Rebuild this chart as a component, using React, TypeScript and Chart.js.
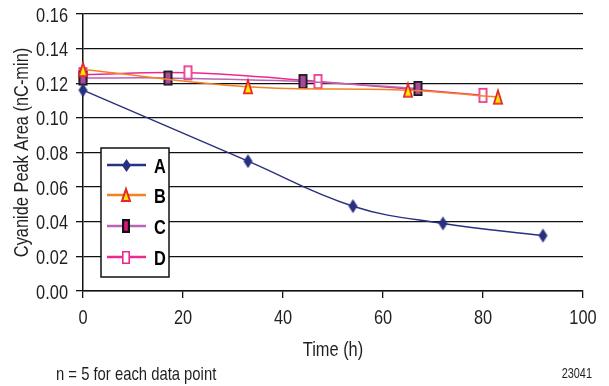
import React, { useEffect, useRef } from "react";
import { Chart, registerables } from "chart.js";

Chart.register(...registerables);

// ---------- data ----------
const seriesNames = ["A", "B", "C", "D"];
const timeA = [0, 33, 54, 72, 92];
const valuesA = [0.116, 0.075, 0.049, 0.039, 0.032];
const timeB = [0, 33, 65, 83];
const valuesB = [0.128, 0.118, 0.116, 0.112];
const timeC = [0, 17, 44, 67];
const valuesC = [0.123, 0.123, 0.121, 0.117];
const timeD = [0, 21, 47, 80];
const valuesD = [0.125, 0.126, 0.121, 0.113];
const xTicks = [0, 20, 40, 60, 80, 100];
const yTicks = [0, 0.02, 0.04, 0.06, 0.08, 0.1, 0.12, 0.14, 0.16];
const xTitle = "Time (h)";
const yTitle = "Cyanide Peak Area (nC-min)";
const footnote = "n = 5 for each data point";
const figureId = "23041";

// ---------- styling ----------
const FONT = "'Liberation Sans', Arial, sans-serif";
const TEXT = "#231f20";
const SQUEEZE = 0.78; // emulate the condensed face of the original

function makeMarker(kind: string, w: number, h: number, fill: string, stroke: string, lw: number) {
  const pad = 2;
  const c = document.createElement("canvas");
  c.width = w + pad * 2;
  c.height = h + pad * 2;
  const ctx = c.getContext("2d")!;
  ctx.translate(pad, pad);
  ctx.beginPath();
  if (kind === "diamond") {
    ctx.moveTo(w / 2, 0);
    ctx.lineTo(w, h / 2);
    ctx.lineTo(w / 2, h);
    ctx.lineTo(0, h / 2);
    ctx.closePath();
  } else if (kind === "triangle") {
    ctx.moveTo(w / 2, lw / 2);
    ctx.lineTo(w - lw / 2, h - lw / 2);
    ctx.lineTo(lw / 2, h - lw / 2);
    ctx.closePath();
  } else {
    ctx.rect(lw / 2, lw / 2, w - lw, h - lw);
  }
  ctx.fillStyle = fill;
  ctx.fill();
  if (lw > 0) {
    ctx.lineWidth = lw;
    ctx.strokeStyle = stroke;
    ctx.lineJoin = "miter";
    ctx.stroke();
  }
  return c;
}

function squeezedText(
  ctx: CanvasRenderingContext2D,
  text: string,
  x: number,
  y: number,
  font: string,
  align: CanvasTextAlign,
  rotate = 0
) {
  ctx.save();
  ctx.font = font;
  ctx.textAlign = align;
  ctx.textBaseline = "alphabetic";
  const w = ctx.measureText(text).width;
  ctx.translate(x, y);
  if (rotate) ctx.rotate(rotate);
  ctx.fillText(text, 0, 0, w * SQUEEZE);
  ctx.restore();
}

export default function App() {
  const ref = useRef<HTMLCanvasElement | null>(null);

  useEffect(() => {
    document.body.style.margin = "0";
    const canvas = ref.current!;

    const mA = makeMarker("diamond", 9, 14, "#29307f", "#29307f", 0);
    const mB = makeMarker("triangle", 10, 15, "#ffe500", "#e5262a", 1.8);
    const mC = makeMarker("rect", 9, 15, "#a8489e", "#1a1a1a", 1.8);
    const mD = makeMarker("rect", 9, 15, "#ffffff", "#ec3b8c", 1.8);
    const lA = makeMarker("diamond", 9, 13, "#29307f", "#29307f", 0);
    const lB = makeMarker("triangle", 10, 14, "#ffe500", "#e5262a", 2);
    const lC = makeMarker("rect", 8, 14, "#e0157a", "#111", 2.2);
    const lD = makeMarker("rect", 8, 13, "#ffffff", "#ec2a8e", 1.6);

    const lineColors = ["#29307f", "#f58220", "#b865b3", "#ec2a8e"];
    const markers = [mA, mB, mC, mD];
    const legendMarkers = [lA, lB, lC, lD];
    const times = [timeA, timeB, timeC, timeD];
    const vals = [valuesA, valuesB, valuesC, valuesD];

    const datasets = seriesNames.map((name, i) => ({
      label: name,
      data: times[i].map((t, j) => ({ x: t, y: vals[i][j] })),
      borderColor: lineColors[i],
      backgroundColor: lineColors[i],
      borderWidth: 1.5,
      tension: 0.4,
      pointStyle: markers[i] as any,
      pointRadius: 7,
      clip: false as any,
    }));

    const extras = {
      id: "extras",
      afterDraw(chart: any) {
        const ctx = chart.ctx as CanvasRenderingContext2D;
        const xs = chart.scales.x;
        const ys = chart.scales.y;
        const area = chart.chartArea;
        ctx.save();
        ctx.fillStyle = TEXT;
        // tick labels
        const tickFont = `21px ${FONT}`;
        xs.ticks.forEach((t: any) => {
          squeezedText(ctx, String(t.value), xs.getPixelForValue(t.value), 324, tickFont, "center");
        });
        ys.ticks.forEach((t: any) => {
          squeezedText(ctx, Number(t.value).toFixed(2), area.left - 15, ys.getPixelForValue(t.value) + 7.5, tickFont, "right");
        });
        // axis titles
        squeezedText(ctx, xTitle, (area.left + area.right) / 2, 355.5, `21px ${FONT}`, "center");
        squeezedText(ctx, yTitle, 27.5, (area.top + area.bottom) / 2, `21px ${FONT}`, "center", -Math.PI / 2);
        // footnotes
        squeezedText(ctx, footnote, 56, 380, `19px ${FONT}`, "left");
        squeezedText(ctx, figureId, 592, 378, `14px ${FONT}`, "right");

        // legend box
        const bx = 101, by = 148, bw = 68, bh = 129;
        ctx.fillStyle = "#fff";
        ctx.fillRect(bx, by, bw, bh);
        ctx.lineWidth = 1.5;
        ctx.strokeStyle = "#111";
        ctx.strokeRect(bx, by, bw, bh);
        const rows = [165, 195, 226, 257];
        seriesNames.forEach((name, i) => {
          const y = rows[i];
          ctx.beginPath();
          ctx.moveTo(107, y);
          ctx.lineTo(146, y);
          ctx.lineWidth = 2.5;
          ctx.strokeStyle = lineColors[i];
          ctx.stroke();
          const m = legendMarkers[i];
          ctx.drawImage(m, Math.round(126 - m.width / 2), Math.round(y - m.height / 2));
          ctx.fillStyle = "#000";
          squeezedText(ctx, name, 154, y + 7.5, `bold 21px ${FONT}`, "left");
        });
        ctx.restore();
      },
    };

    const chart = new Chart(canvas, {
      type: "line",
      data: { datasets },
      plugins: [extras],
      options: {
        animation: false,
        responsive: false,
        maintainAspectRatio: false,
        layout: { padding: { left: 0, right: 26, top: 14, bottom: 0 } },
        plugins: { legend: { display: false }, tooltip: { enabled: false } },
        scales: {
          x: {
            type: "linear",
            min: 0,
            max: 100,
            afterBuildTicks: (s: any) => {
              s.ticks = xTicks.map((v) => ({ value: v }));
            },
            afterFit: (s: any) => {
              s.height = 95;
            },
            grid: { drawOnChartArea: false, drawTicks: true, tickLength: 7, color: "#111", lineWidth: 1.3 },
            border: { color: "#111", width: 1.5 },
            ticks: { display: false },
            title: { display: false, text: xTitle },
          },
          y: {
            type: "linear",
            min: 0,
            max: 0.16,
            afterBuildTicks: (s: any) => {
              s.ticks = yTicks.map((v) => ({ value: v }));
            },
            afterFit: (s: any) => {
              s.width = 83;
            },
            grid: { drawTicks: true, tickLength: 7, color: "#111", lineWidth: 1.3 },
            border: { color: "#111", width: 1.5 },
            ticks: { display: false },
            title: { display: false, text: yTitle },
          },
        },
      },
    });
    return () => chart.destroy();
  }, []);

  return (
    <div style={{ width: 609, height: 386, background: "#fff" }}>
      <canvas ref={ref} width={609} height={386} style={{ display: "block" }} />
    </div>
  );
}
